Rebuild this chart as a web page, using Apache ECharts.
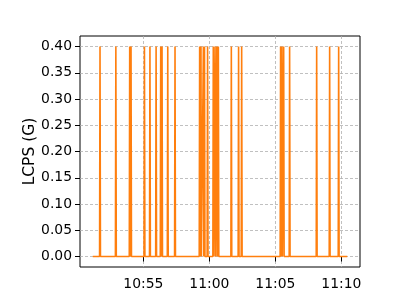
<!DOCTYPE html>
<html>
<head>
<meta charset="utf-8">
<script src="https://cdn.jsdelivr.net/npm/echarts@6/dist/echarts.min.js"></script>
<style>html,body{margin:0;padding:0;background:#fff;}#c{width:400px;height:300px;}</style>
</head>
<body>
<div id="c"></div>
<script>
// sample times (HH:MM:SS) and LCPS values (G)
const times = [
  "10:51:10",
  "10:51:41","10:51:43","10:51:45",
  "10:52:53","10:52:55","10:52:57",
  "10:53:56","10:53:58","10:54:00",
  "10:54:02","10:54:04","10:54:06",
  "10:55:03","10:55:05","10:55:07",
  "10:55:28","10:55:30","10:55:32",
  "10:55:56","10:55:58","10:56:00",
  "10:56:17","10:56:19","10:56:21",
  "10:56:23","10:56:25","10:56:27",
  "10:56:49","10:56:51","10:56:53",
  "10:57:22","10:57:24","10:57:26",
  "10:59:14","10:59:16","10:59:18",
  "10:59:20","10:59:22","10:59:24",
  "10:59:31","10:59:33","10:59:35",
  "10:59:36","10:59:38","10:59:40",
  "10:59:50","10:59:52","10:59:54",
  "11:00:16","11:00:18","11:00:20",
  "11:00:24","11:00:26","11:00:28",
  "11:00:32","11:00:34","11:00:36",
  "11:00:39","11:00:41","11:00:43",
  "11:01:38","11:01:40","11:01:42",
  "11:02:11","11:02:13","11:02:15",
  "11:02:25","11:02:27","11:02:29",
  "11:05:22","11:05:24","11:05:26",
  "11:05:28","11:05:30","11:05:32",
  "11:05:36","11:05:38","11:05:40",
  "11:06:03","11:06:05","11:06:07",
  "11:08:06","11:08:08","11:08:10",
  "11:09:05","11:09:07","11:09:09",
  "11:09:46","11:09:48","11:09:50",
  "11:10:27"
];
const lcps = [
  0,
  0,0.4,0, 0,0.4,0, 0,0.4,0, 0,0.4,0, 0,0.4,0,
  0,0.4,0, 0,0.4,0, 0,0.4,0, 0,0.4,0, 0,0.4,0,
  0,0.4,0, 0,0.4,0, 0,0.4,0, 0,0.4,0, 0,0.4,0,
  0,0.4,0, 0,0.4,0, 0,0.4,0, 0,0.4,0, 0,0.4,0,
  0,0.4,0, 0,0.4,0, 0,0.4,0, 0,0.4,0, 0,0.4,0,
  0,0.4,0, 0,0.4,0, 0,0.4,0, 0,0.4,0, 0,0.4,0,
  0
];
const xTickLabels = ["10:55","11:00","11:05","11:10"];
const yTicks = [0,0.05,0.10,0.15,0.20,0.25,0.30,0.35,0.40];
const xRange = ["10:50:12","11:11:25"];
const yRange = [-0.02, 0.42];

function toSec(s){const p=s.split(':').map(Number);return p[0]*3600+p[1]*60+(p[2]||0);}
function fmt(sec){const h=Math.floor(sec/3600),m=Math.floor((sec%3600)/60);return h+":"+String(m).padStart(2,'0');}
const xTicks = xTickLabels.map(toSec);
const data = times.map((t,i)=>[toSec(t), lcps[i]]);

const font = "DejaVu Sans";
const gridLine = {show:true, lineStyle:{color:'#b0b0b0', width:0.8, type:[3,2]}};
const chart = echarts.init(document.getElementById('c'), null, {renderer:'canvas'});
chart.setOption({
  animation:false,
  grid:{left:80, right:40, top:36, bottom:33, show:true, borderColor:'#000', borderWidth:1, backgroundColor:'transparent'},
  xAxis:{
    type:'value', min:toSec(xRange[0]), max:toSec(xRange[1]),
    axisLine:{show:false},
    axisTick:{show:true, length:5, lineStyle:{color:'#000', width:1}, customValues:xTicks},
    axisLabel:{customValues:xTicks, formatter:v=>fmt(v), color:'#000', fontFamily:font, fontSize:13.9, margin:10},
    splitLine:Object.assign({customValues:xTicks}, gridLine)
  },
  yAxis:{
    type:'value', min:yRange[0], max:yRange[1],
    name:'LCPS (G)', nameLocation:'middle', nameGap:42, nameMoveOverlap:false,
    nameTextStyle:{color:'#000', fontFamily:font, fontSize:15.5},
    axisLine:{show:false},
    axisTick:{show:true, length:5, lineStyle:{color:'#000', width:1}, customValues:yTicks},
    axisLabel:{customValues:yTicks, formatter:v=>v.toFixed(2), color:'#000', fontFamily:font, fontSize:13.9, margin:8},
    splitLine:Object.assign({customValues:yTicks}, gridLine)
  },
  series:[{
    type:'line', data:data, showSymbol:false, symbol:'none',
    lineStyle:{color:'#ff7f0e', width:1.6}, itemStyle:{color:'#ff7f0e'}
  }]
});
</script>
</body>
</html>
